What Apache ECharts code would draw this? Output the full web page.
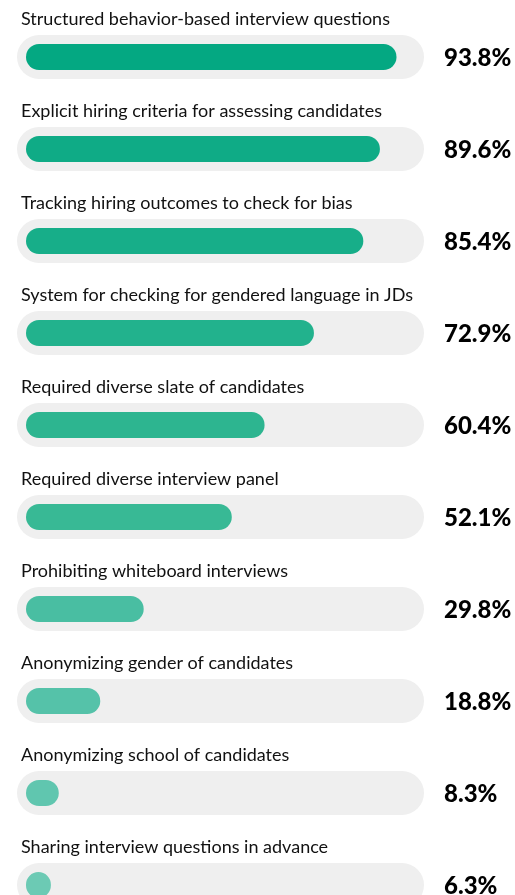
<!DOCTYPE html>
<html>
<head>
<meta charset="utf-8">
<script src="https://cdn.jsdelivr.net/npm/echarts@6/dist/echarts.min.js"></script>
<style>
  html, body { margin: 0; padding: 0; background: #ffffff; }
  #chart { width: 515px; height: 895px; }
</style>
</head>
<body>
<div id="chart"></div>
<script>
// practice names, top to bottom
const categories = [
  'Structured behavior-based interview questions',
  'Explicit hiring criteria for assessing candidates',
  'Tracking hiring outcomes to check for bias',
  'System for checking for gendered language in JDs',
  'Required diverse slate of candidates',
  'Required diverse interview panel',
  'Prohibiting whiteboard interviews',
  'Anonymizing gender of candidates',
  'Anonymizing school of candidates',
  'Sharing interview questions in advance'
];
// share of companies, %
const values = [93.8, 89.6, 85.4, 72.9, 60.4, 52.1, 29.8, 18.8, 8.3, 6.3];
// bar colour per row (gets lighter going down)
const barColors = ['#04a882', '#0fab86', '#17ae89', '#22b28d', '#2db590',
                   '#38b995', '#49bea2', '#55c2a9', '#60c6af', '#6ccab4'];
const trackValues = categories.map(() => 100);

const chart = echarts.init(document.getElementById('chart'));

const font = 'Lato, "Open Sans", sans-serif';

// last row runs off the bottom of the page, so the grid is taller than the container
chart.setOption({
  animation: false,
  grid: [
    {left: 17, width: 407, top: 11, height: 920, outerBoundsMode: 'none'},   // grey tracks
    {left: 26, width: 395, top: 11, height: 920, outerBoundsMode: 'none'}    // green bars
  ],
  xAxis: [
    {gridIndex: 0, type: 'value', min: 0, max: 100, show: false},
    {gridIndex: 1, type: 'value', min: 0, max: 100, show: false}
  ],
  yAxis: [
    {gridIndex: 0, type: 'category', data: categories, inverse: true, show: false},
    {gridIndex: 1, type: 'category', data: categories, inverse: true, show: false}
  ],
  series: [
    {
      type: 'bar',
      xAxisIndex: 0,
      yAxisIndex: 0,
      data: trackValues,
      barWidth: 44,
      silent: true,
      itemStyle: {color: '#efefef', borderRadius: 22},
      label: {
        show: true,
        position: [4, -16],
        align: 'left',
        verticalAlign: 'middle',
        formatter: p => categories[p.dataIndex],
        color: '#111111',
        fontSize: 18,
        fontFamily: font
      }
    },
    {
      type: 'bar',
      xAxisIndex: 1,
      yAxisIndex: 1,
      data: values.map((v, i) => ({value: v, itemStyle: {color: barColors[i]}})),
      barWidth: 26,
      itemStyle: {borderRadius: 13},
      label: {
        show: true,
        position: [418, 14],
        align: 'left',
        verticalAlign: 'middle',
        formatter: p => p.value.toFixed(1) + '%',
        color: '#000000',
        fontSize: 24,
        fontWeight: 900,
        fontFamily: font
      }
    }
  ]
});
</script>
</body>
</html>
